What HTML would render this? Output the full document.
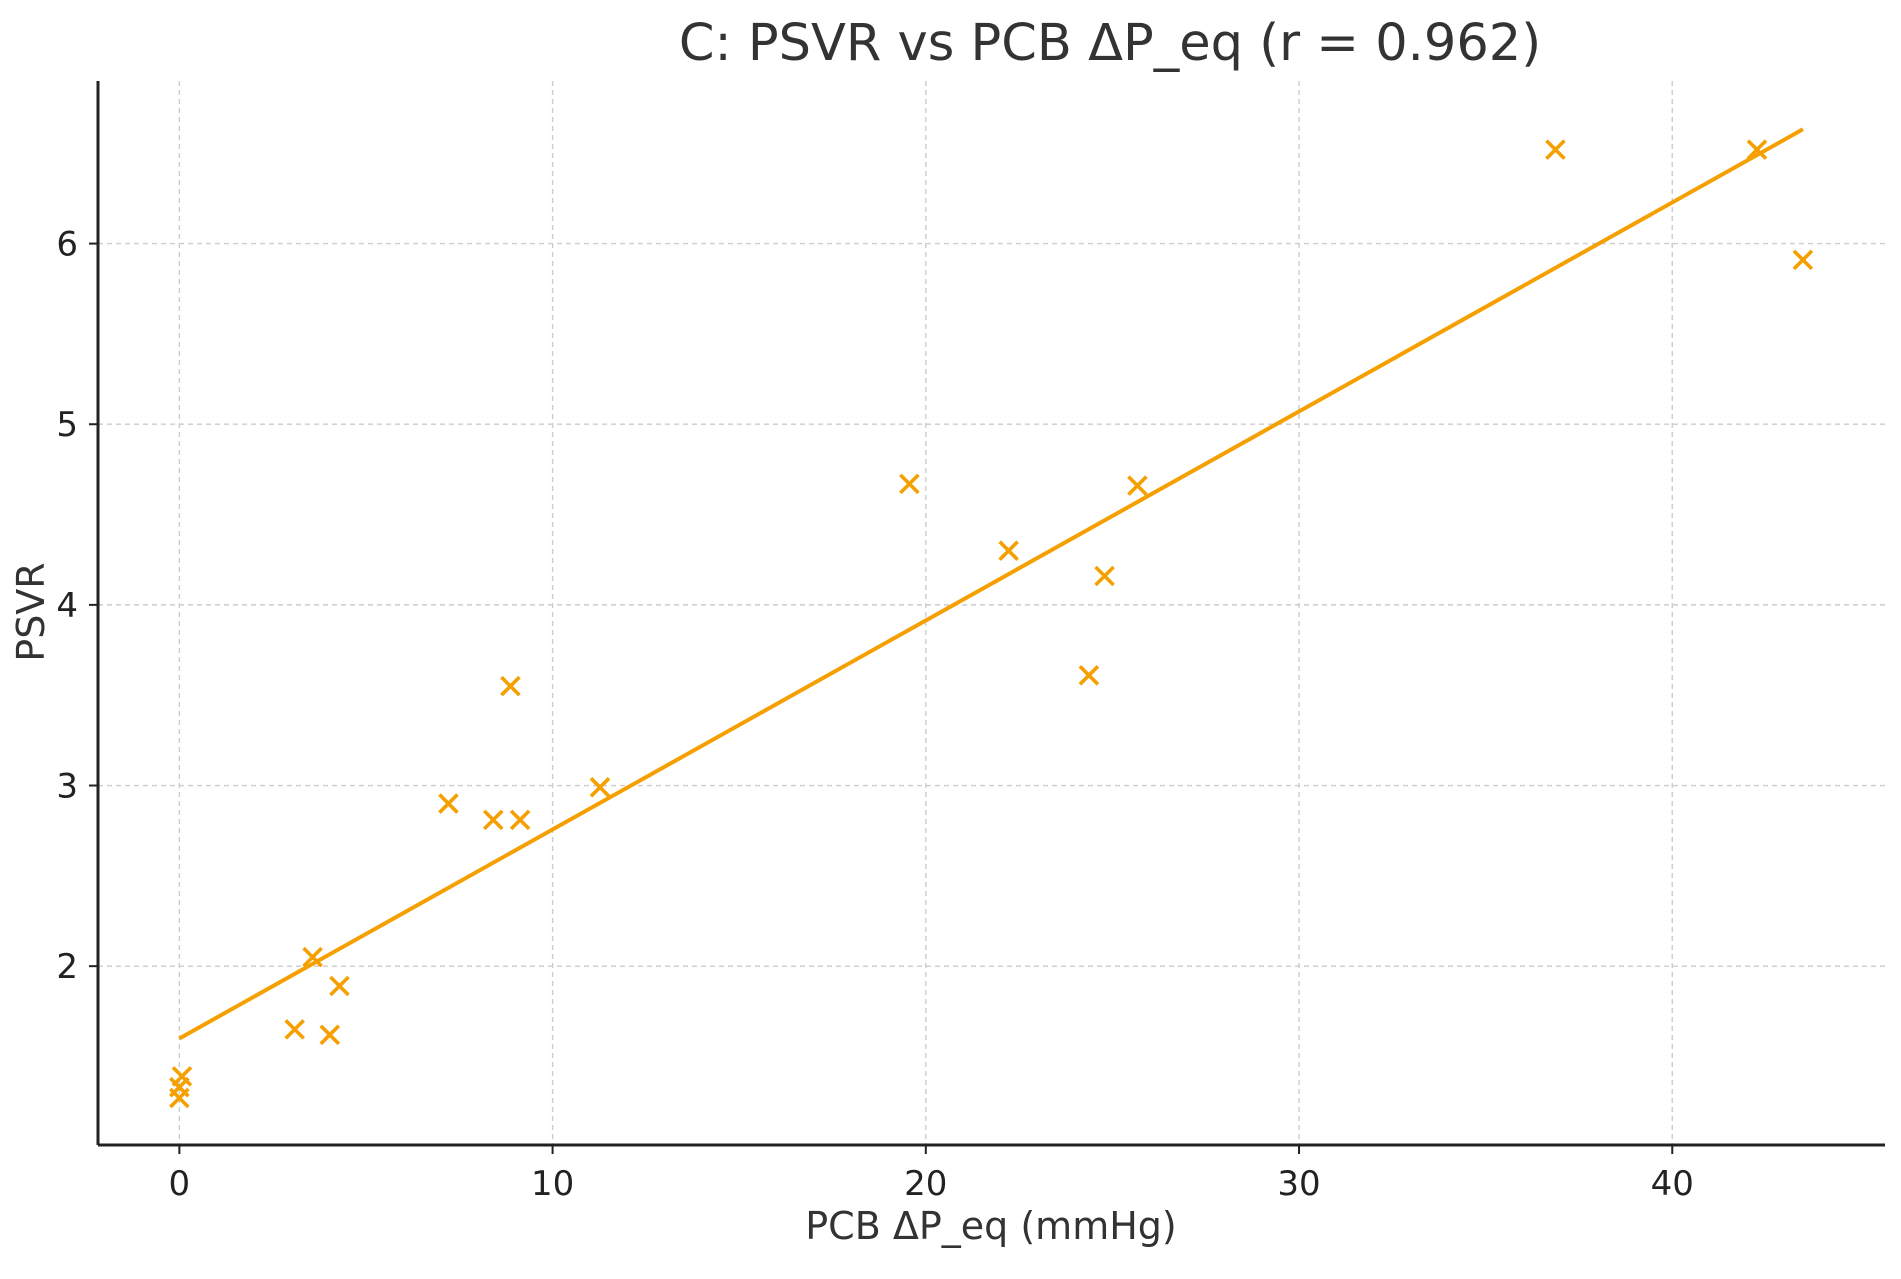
<!DOCTYPE html>
<html><head><meta charset="utf-8"><style>
html,body{margin:0;padding:0;background:#fff;}
svg{display:block;font-family:"DejaVu Sans","Liberation Sans",sans-serif;}
</style></head><body>
<svg id="chart" width="1901" height="1279" viewBox="0 0 1901 1279">
<text x="1110" y="60" text-anchor="middle" font-size="51" fill="#333">C: PSVR vs PCB ΔP_eq (r = 0.962)</text>
<g id="grid"></g>
<g id="axes"></g>
<g id="marks"></g>
<text x="991" y="1239" text-anchor="middle" font-size="38" fill="#333">PCB ΔP_eq (mmHg)</text>
<text transform="translate(44,612) rotate(-90)" text-anchor="middle" font-size="38" fill="#333">PSVR</text>
</svg>
<script>
const xValues=[0,0.07,0,3.09,3.57,4.03,4.29,7.21,8.41,8.87,9.13,11.27,19.56,22.22,24.37,24.79,25.67,36.87,42.27,43.5];
const yValues=[1.27,1.39,1.33,1.65,2.05,1.62,1.89,2.90,2.81,3.55,2.81,2.99,4.67,4.30,3.61,4.16,4.66,6.52,6.52,5.91];
const xTicks=[0,10,20,30,40];
const yTicks=[2,3,4,5,6];
const xDomain=[-2.18,45.7];
const yDomain=[1.01,6.90];
const L=98,R=1885,T=81,B=1145;
const sx=v=>L+(v-xDomain[0])/(xDomain[1]-xDomain[0])*(R-L);
const sy=v=>B-(v-yDomain[0])/(yDomain[1]-yDomain[0])*(B-T);
const NS='http://www.w3.org/2000/svg';
function mk(tag,attrs,parent){const e=document.createElementNS(NS,tag);for(const k in attrs)e.setAttribute(k,attrs[k]);parent.appendChild(e);return e;}
const grid=document.getElementById('grid'),axes=document.getElementById('axes'),marks=document.getElementById('marks');
xTicks.forEach(t=>{const x=sx(t);
 const g=mk('line',{x1:x,x2:x,y1:T,y2:B,stroke:'#ccc','stroke-width':1.4,'stroke-dasharray':'5,4'},grid);
 
 
 const tk=mk('line',{x1:x,x2:x,y1:B,y2:B+9,stroke:'#222','stroke-width':2},axes);
 
 
 const lb=mk('text',{x:x,y:B+50,'text-anchor':'middle','font-size':34,fill:'#222'},axes);lb.textContent=t;
 
 
});
yTicks.forEach(t=>{const y=sy(t);
 const g=mk('line',{x1:L,x2:R,y1:y,y2:y,stroke:'#ccc','stroke-width':1.4,'stroke-dasharray':'5,4'},grid);
 
 
 const tk=mk('line',{x1:L-9,x2:L,y1:y,y2:y,stroke:'#222','stroke-width':2},axes);
 
 
 const lb=mk('text',{x:L-20,y:y+12,'text-anchor':'end','font-size':34,fill:'#222'},axes);lb.textContent=t;
 
 
});
const ya=mk('line',{x1:L,x2:L,y1:T,y2:B,stroke:'#222','stroke-width':3},axes);


const xa=mk('line',{x1:L,x2:R,y1:B,y2:B,stroke:'#222','stroke-width':3},axes);


const n=xValues.length;const mx=xValues.reduce((a,b)=>a+b)/n,my=yValues.reduce((a,b)=>a+b)/n;
let sxy=0,sxx=0;for(let i=0;i<n;i++){sxy+=(xValues[i]-mx)*(yValues[i]-my);sxx+=(xValues[i]-mx)**2;}
const m=sxy/sxx,c=my-m*mx;const x0=Math.min(...xValues),x1=Math.max(...xValues);
const fit=mk('line',{x1:sx(x0),y1:sy(m*x0+c),x2:sx(x1),y2:sy(m*x1+c),stroke:'#f5a000','stroke-width':4},marks);


for(let i=0;i<n;i++){const x=sx(xValues[i]),y=sy(yValues[i]),s=9;
 const p=mk('path',{d:`M${x-s},${y-s}L${x+s},${y+s}M${x-s},${y+s}L${x+s},${y-s}`,stroke:'#f5a000','stroke-width':3.6,fill:'none'},marks);
 
 
}
</script>
</body></html>
